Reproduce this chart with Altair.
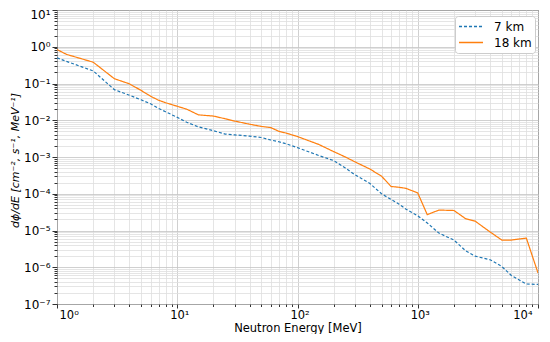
import altair as alt
import pandas as pd

energy = [1, 1.2, 2, 3, 4, 5, 6, 7, 8, 10, 12, 15, 20, 25, 30, 40, 50, 60, 70, 80,
          100, 150, 200, 250, 300, 400, 500, 600, 700, 800, 1000, 1200, 1500, 2000,
          2500, 3000, 4000, 5000, 6000, 8000, 10000]
flux_7km = [0.5, 0.4, 0.22, 0.068, 0.048, 0.036, 0.028, 0.021, 0.017, 0.012, 0.0088,
            0.0066, 0.0052, 0.0042, 0.004, 0.0037, 0.0034, 0.0029, 0.0026, 0.0023,
            0.0018, 0.0011, 0.0008, 0.0005, 0.00033, 0.00019, 0.0001, 0.00007,
            0.000052, 0.000038, 0.000025, 0.000016, 0.0000085, 0.0000055,
            0.0000028, 0.000002, 0.0000016, 0.00000105, 0.0000006, 0.00000035,
            0.00000034]
flux_18km = [0.84, 0.62, 0.38, 0.135, 0.098, 0.065, 0.045, 0.035, 0.03, 0.024, 0.02,
             0.014, 0.013, 0.011, 0.0095, 0.0078, 0.0068, 0.0063, 0.005, 0.0045,
             0.0036, 0.0022, 0.0014, 0.001, 0.00074, 0.00047, 0.0003, 0.000158,
             0.00015, 0.00014, 0.000105, 0.000027, 0.000036, 0.000035, 0.000021,
             0.000018, 0.0000091, 0.0000055, 0.0000055, 0.0000062, 0.0000007]
series = ["7 km", "18 km"]

rows = []
for s, vals in zip(series, [flux_7km, flux_18km]):
    for e, v in zip(energy, vals):
        rows.append({"E": e, "flux": v, "series": s})
df = pd.DataFrame(rows)

x_ticks = [m * 10 ** k for k in range(0, 4) for m in range(1, 10)] + [10000]
y_ticks = [m * 10.0 ** k for k in range(-7, 1) for m in range(1, 10)] + [10.0]

is_major = "abs(log(datum.value)/LN10 - round(log(datum.value)/LN10)) < 1e-6"
sup = "['⁻⁷','⁻⁶','⁻⁵','⁻⁴','⁻³','⁻²','⁻¹','⁰','¹','²','³','⁴'][round(log(datum.value)/LN10)+7]"
label_expr = f"({is_major}) ? '10' + {sup} : ''"

def make_axis(title, values, **kw):
    opts = dict(
        title=title,
        values=values,
        labelExpr=label_expr,
        grid=True,
        gridColor={"condition": {"test": is_major, "value": "#c4c4c4"}, "value": "#dedede"},
        gridWidth=0.8,
        tickColor="#333333",
        tickSize={"condition": {"test": is_major, "value": 5}, "value": 3},
        domain=False,
        labelFont="DejaVu Sans",
        labelFontSize=12,
        labelColor="#000000",
        labelOverlap=False,
        titleFont="DejaVu Sans",
        titleFontSize=12,
        titleFontWeight="normal",
        titleColor="#000000",
    )
    opts.update(kw)
    return alt.Axis(**opts)

chart = alt.Chart(df).mark_line(strokeWidth=1.2, clip=True).encode(
    x=alt.X("E:Q", scale=alt.Scale(type="log", domain=[1, 10000], nice=False),
            axis=make_axis("Neutron Energy [MeV]", x_ticks, titlePadding=2,
                           labelPadding=1, labelFontSize=11.5, titleFontSize=11.5,
                           tickSize={"condition": {"test": is_major, "value": 4}, "value": 2.5},
                           labelOffset={"condition": {"test": "datum.value >= 9999", "value": -6},
                                        "value": 2})),
    y=alt.Y("flux:Q", scale=alt.Scale(type="log", domain=[1e-7, 10], nice=False),
            axis=make_axis("dϕ/dE [cm⁻², s⁻¹, MeV⁻¹]", y_ticks,
                           titleFontStyle="italic", titleFontSize=11,
                           titleX=-37, titleY=150, titleAlign="center",
                           titleBaseline="bottom",
                           labelOffset={"condition": {"test": "datum.value >= 9.99", "value": 4},
                                        "value": 0})),
    color=alt.Color("series:N", sort=series,
                    scale=alt.Scale(domain=series, range=["#1f77b4", "#ff7f0e"]),
                    legend=alt.Legend(title=None, orient="none", legendX=398, legendY=6,
                                      fillColor="white", strokeColor="#cccccc",
                                      cornerRadius=3, padding=3, symbolType="stroke",
                                      symbolSize=576, symbolStrokeWidth=1.4,
                                      clipHeight=15,
                                      labelFont="DejaVu Sans", labelFontSize=12,
                                      labelColor="#000000", rowPadding=1,
                                      labelOffset=10)),
    strokeDash=alt.StrokeDash("series:N", sort=series,
                              scale=alt.Scale(domain=series, range=[[3, 2], [1, 0]]),
                              legend=alt.Legend(title=None, orient="none")),
).properties(
    width=481,
    height=294,
    autosize=alt.AutoSizeParams(type="none"),
    padding={"left": 49, "top": 2, "right": 4, "bottom": 30},
).configure_view(stroke="#333333", strokeWidth=1)

chart.save("out.html", embed_options={"renderer": "svg", "actions": False})
